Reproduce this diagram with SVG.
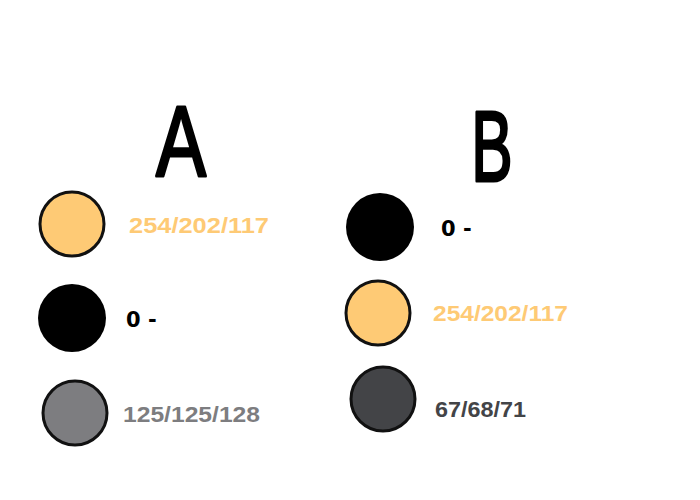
<svg xmlns="http://www.w3.org/2000/svg" width="700" height="500" viewBox="0 0 700 500">
<style>
.lbl{font-family:"Liberation Sans",Arial,sans-serif;font-weight:bold;font-size:22px}
.zero{font-family:"DejaVu Sans",sans-serif;font-weight:bold;font-size:21px;fill:#000}
.hand{font-family:"Liberation Sans",Arial,sans-serif;font-size:100px;fill:#000;stroke:#000;stroke-width:3;stroke-linejoin:round}
.c{stroke:#111;stroke-width:3}
</style>
<rect width="700" height="500" fill="#fff"/>
<g id="title-A"><text class="hand" x="181" y="176" text-anchor="middle" transform="translate(181 0) scale(0.75 1) translate(-181 0)">A</text></g>
<g id="title-B"><text class="hand" x="492" y="181" text-anchor="middle" transform="translate(492 0) scale(0.62 1) translate(-492 0)">B</text></g>
<g id="connectors"></g>
<g id="a1"><circle class="c" cx="72" cy="224" r="32" fill="#FECA75"/><text class="lbl" x="129" y="233" fill="#FECA75" textLength="140" lengthAdjust="spacingAndGlyphs">254/202/117</text></g>
<g id="a2"><circle cx="72" cy="318" r="34" fill="#000"/><text class="zero" x="126" y="327">0 -</text></g>
<g id="a3"><circle class="c" cx="75" cy="413" r="32" fill="#7D7D80"/><text class="lbl" x="123" y="422" fill="#7D7D80" textLength="137" lengthAdjust="spacingAndGlyphs">125/125/128</text></g>
<g id="b1"><circle cx="380" cy="227" r="34" fill="#000"/><text class="zero" x="441" y="236">0 -</text></g>
<g id="b2"><circle class="c" cx="378" cy="313" r="32" fill="#FECA75"/><text class="lbl" x="433" y="321" fill="#FECA75" textLength="135" lengthAdjust="spacingAndGlyphs">254/202/117</text></g>
<g id="b3"><circle class="c" cx="383" cy="399" r="32" fill="#434447"/><text class="lbl" x="435" y="417" fill="#434447" textLength="91" lengthAdjust="spacingAndGlyphs">67/68/71</text></g>
</svg>
